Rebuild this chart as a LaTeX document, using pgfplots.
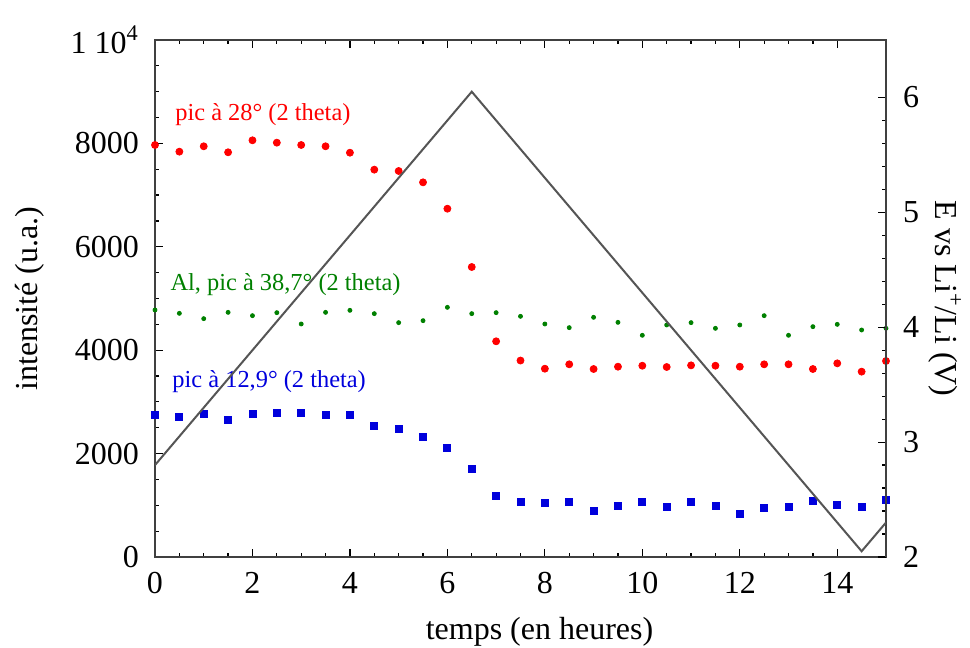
\documentclass[border=0pt]{standalone}
\usepackage{fontspec}
\setmainfont{Liberation Serif}
\usepackage{pgfplots}
\pgfplotsset{compat=1.18}
\usepackage{pgfplotstable}

\definecolor{cred}{RGB}{255,0,0}
\definecolor{cgreen}{RGB}{0,128,0}
\definecolor{cblue}{RGB}{0,0,220}
\definecolor{cgray}{RGB}{85,85,85}

\pgfplotstableread{
t v
0 7969
0.5 7840
1 7944
1.5 7828
2 8060
2.5 8014
3 7969
3.5 7944
4 7820
4.5 7492
5 7466
5.5 7247
6 6737
6.5 5609
7 4172
7.5 3800
8 3642
8.5 3727
9 3636
9.5 3681
10 3700
10.5 3675
11 3707
11.5 3700
12 3681
12.5 3727
13 3727
13.5 3636
14 3746
14.5 3585
15 3791
}\redtab

\pgfplotstableread{
t v
0 4778
0.5 4713
1 4610
1.5 4732
2 4668
2.5 4726
3 4507
3.5 4732
4 4771
4.5 4707
5 4533
5.5 4571
6 4829
6.5 4707
7 4726
7.5 4655
8 4507
8.5 4436
9 4636
9.5 4539
10 4288
10.5 4488
11 4533
11.5 4423
12 4488
12.5 4668
13 4288
13.5 4455
14 4500
14.5 4391
15 4423
}\greentab

\pgfplotstableread{
t v
0 2753
0.5 2702
1 2766
1.5 2643
2 2759
2.5 2785
3 2779
3.5 2753
4 2753
4.5 2534
5 2469
5.5 2321
6 2102
6.5 1708
7 1180
7.5 1070
8 1044
8.5 1070
9 890
9.5 980
10 1070
10.5 961
11 1070
11.5 980
12 838
12.5 954
13 967
13.5 1089
14 1012
14.5 967
15 1102
}\bluetab

\pgfplotstableread{
t E
0 2.80
6.5 6.05
14.5 2.05
15 2.30
}\graytab

\begin{document}
\begin{tikzpicture}
\useasboundingbox (-77.5pt,-45.5pt) rectangle (407.5pt,278.5pt);
\pgfplotsset{
  every axis/.append style={
    scale only axis, width=365.5pt, height=258.5pt,
    at={(0,0)}, anchor=south west,
    xmin=0, xmax=15,
    font=\fontsize{16}{19}\selectfont,
    tick style={black, line width=0.6pt},
    major tick length=4pt, minor tick length=2.2pt,
    axis line style={line width=0.75pt, black!75},
    /pgf/number format/assume math mode=true,
    /pgf/number format/1000 sep={},
    scaled ticks=false,
  }
}
\begin{axis}[
  ymin=0, ymax=10000,
  xtick={0,2,...,14}, minor x tick num=3,
  ytick={0,2000,4000,6000,8000,10000},
  yticklabels={0,2000,4000,6000,8000,{1 10\textsuperscript{4}}},
  minor y tick num=3,
  xtick pos=both, ytick pos=left,
  xticklabel style={yshift=-4pt},
  yticklabel style={xshift=-4.5pt},
  xlabel={temps (en heures)},
  ylabel={intensité (u.a.)},
  xlabel style={at={(axis description cs:0.526,0)}, anchor=center, yshift=-37.5pt},
  ylabel style={at={(axis description cs:-0.171,0.5)}, anchor=center},
  clip=false,
]
\addplot[only marks, mark=*, mark size=1.75pt, color=cred, mark options={fill=cred, draw=cred}] table[x=t,y=v] {\redtab};
\addplot[only marks, mark=*, mark size=1pt, color=cgreen, mark options={fill=cgreen, draw=cgreen}] table[x=t,y=v] {\greentab};
\addplot[only marks, mark=square*, mark size=1.75pt, color=cblue, mark options={fill=cblue, draw=cblue}] table[x=t,y=v] {\bluetab};
\node[anchor=west, inner sep=0pt, text=cred, font=\fontsize{12.2}{14}\selectfont] at (axis cs:0.41,8549) {pic à 28° (2 theta)};
\node[anchor=west, inner sep=0pt, text=cgreen, font=\fontsize{12.2}{14}\selectfont] at (axis cs:0.31,5261) {Al, pic à 38,7° (2 theta)};
\node[anchor=west, inner sep=0pt, text=cblue, font=\fontsize{12.2}{14}\selectfont] at (axis cs:0.35,3385) {pic à 12,9° (2 theta)};
\end{axis}
\begin{axis}[
  ymin=2, ymax=6.5,
  axis x line=none, axis y line*=right,
  ytick={2,3,4,5,6}, minor y tick num=4,
  yticklabel style={xshift=5pt},
  ylabel={E vs Li\textsuperscript{+}/Li (V)},
  ylabel style={at={(axis description cs:1.0807,0.5)}, anchor=center, rotate=180},
]
\addplot[cgray, line width=1pt] table[x=t,y=E] {\graytab};
\end{axis}
\end{tikzpicture}
\end{document}
